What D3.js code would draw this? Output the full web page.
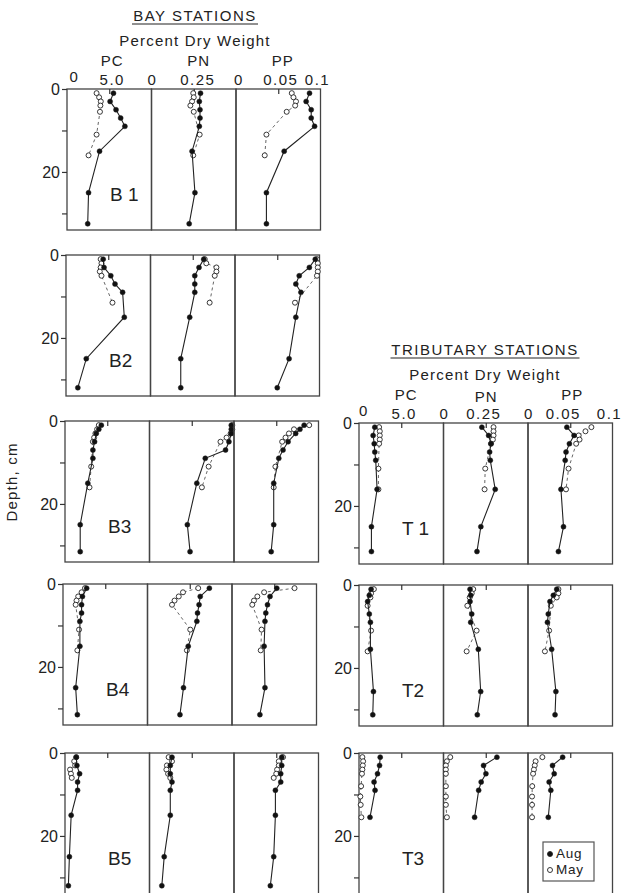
<!DOCTYPE html>
<html lang="en">
<head>
<meta charset="utf-8">
<title>Sediment PC, PN, PP depth profiles</title>
<script src="https://cdn.jsdelivr.net/npm/d3@7"></script>
<style>
  body { margin: 0; background: #fff; }
  svg { font-family: "Liberation Sans", Arial, sans-serif; }
  .tick text { font-size: 16px; fill: #222; }
  .tick line { stroke: #333; stroke-width: 1.2; }
</style>
</head>
<body>
<script>
"use strict";

const w = 623, h = 893;

// each row: depth (cm), PC, PN, PP (percent dry weight)
const B1_aug = [[1,5.5,0.29,0.087],[3,5.1,0.283,0.083],[5,5.8,0.287,0.089],[7,6.35,0.287,0.089],[9,6.85,0.283,0.093],[15,3.85,0.24,0.057],[25,2.55,0.257,0.036],[32.5,2.45,0.223,0.036]];
const B1_may = [[1,3.5,0.247,0.066],[2,3.8,0.25,0.068],[3,4.0,0.24,0.071],[4,3.95,0.23,0.07],[5.5,3.9,0.25,0.06],[11,3.5,0.285,0.036],[16,2.55,0.247,0.034]];

const B2_aug = [[1,4.4,0.315,0.095],[3,4.5,0.287,0.088],[5,5.3,0.262,0.076],[7,5.8,0.262,0.072],[9,6.7,0.262,0.078],[15,6.9,0.232,0.072],[25,2.4,0.179,0.064],[32,1.4,0.179,0.05]];
const B2_may = [[1,4.1,0.321,0.097],[2,4.2,0.33,0.098],[3,4.1,0.39,0.098],[4,4.0,0.39,0.098],[5,4.2,0.38,0.097],[11.5,5.5,0.35,0.071]];

const B3_aug = [[1,4.3,0.484,0.083],[2,4.0,0.484,0.078],[3,3.7,0.484,0.073],[5,3.5,0.47,0.064],[7,3.3,0.45,0.058],[9,3.3,0.33,0.053],[15,2.7,0.28,0.047],[25,1.8,0.224,0.047],[31.5,1.8,0.24,0.044]];
const B3_may = [[1,4.0,0.49,0.089],[2,3.8,0.49,0.071],[3,3.6,0.48,0.065],[4,3.45,0.456,0.061],[5,3.3,0.42,0.057],[11,3.1,0.35,0.049],[16,2.9,0.31,0.047]];

const B4_aug = [[1,2.8,0.366,0.053],[3,2.3,0.312,0.045],[5,2.2,0.305,0.042],[7,2.2,0.296,0.04],[9,2.0,0.292,0.039],[15,2.0,0.241,0.038],[25,1.5,0.213,0.039],[31.5,1.7,0.192,0.033]];
const B4_may = [[1,2.6,0.30,0.074],[2,2.2,0.21,0.038],[3,1.8,0.185,0.03],[4,1.6,0.16,0.026],[5,1.5,0.145,0.024],[11,1.9,0.253,0.035],[16,1.7,0.233,0.034]];

const B5_aug = [[1,1.33,0.133,0.0565],[3,1.41,0.123,0.0565],[5,1.73,0.123,0.0553],[7,1.49,0.133,0.0553],[9,1.49,0.123,0.049],[15,0.73,0.123,0.049],[25,0.52,0.087,0.047],[32,0.40,0.073,0.043]];
const B5_may = [[1,1.33,0.113,0.058],[2,1.09,0.133,0.053],[3,1.2,0.103,0.053],[4,0.6,0.10,0.051],[5,0.7,0.11,0.05],[6,0.8,0.123,0.047]];

const T1_aug = [[1,1.87,0.227,0.046],[3,1.67,0.267,0.0545],[5,1.8,0.281,0.049],[7,1.87,0.273,0.045],[9,1.98,0.277,0.044],[16,2.14,0.306,0.039],[25,1.47,0.221,0.042],[31,1.47,0.198,0.036]];
const T1_may = [[1,2.38,0.296,0.075],[2,2.46,0.296,0.068],[3,2.46,0.296,0.06],[4,2.46,0.292,0.061],[5,2.38,0.281,0.057],[11,2.3,0.247,0.048],[16,2.3,0.243,0.045]];

const T2_aug = [[1,1.43,0.157,0.034],[2.5,1.22,0.161,0.03],[4,1.02,0.157,0.026],[7,1.22,0.167,0.024],[9,1.35,0.161,0.023],[15.5,1.35,0.206,0.028],[25.7,1.71,0.22,0.033],[31.3,1.63,0.2,0.032]];
const T2_may = [[1,1.76,0.176,0.036],[2,1.43,0.167,0.036],[3,1.35,0.155,0.034],[5,1.02,0.141,0.027],[11,1.43,0.196,0.025],[16,1.02,0.137,0.02]];

const T3_aug = [[1,2.51,0.316,0.041],[3,2.43,0.237,0.029],[5,2.19,0.251,0.031],[7,1.78,0.223,0.025],[9,1.9,0.208,0.027],[15.5,1.3,0.184,0.024]];
const T3_may = [[1,0.4,0.04,0.017],[2,0.49,0.02,0.009],[3,0.45,0.014,0.008],[4,0.4,0.014,0.007],[5,0.35,0.014,0.006],[8,0.25,0.014,0.005],[10.5,0.16,0.014,0.0048],[12.5,0.2,0.014,0.0048],[15.5,0.28,0.02,0.0048]];

const bayStations = ["B1", "B2", "B3", "B4", "B5"];
const tribStations = ["T1", "T2", "T3"];
const stationNames = ["B 1", "B2", "B3", "B4", "B5", "T 1", "T2", "T3"];
const variables = ["PC", "PN", "PP"];
const xMax = [10, 0.5, 0.1];
const headerTicks = [[0, 5], [0, 0.25], [0, 0.05, 0.1]];
const depthTicks = [0, 10, 20, 30];
const seasons = ["May", "Aug"];

const data = {
  B1: {Aug: B1_aug, May: B1_may}, B2: {Aug: B2_aug, May: B2_may},
  B3: {Aug: B3_aug, May: B3_may}, B4: {Aug: B4_aug, May: B4_may},
  B5: {Aug: B5_aug, May: B5_may}, T1: {Aug: T1_aug, May: T1_may},
  T2: {Aug: T2_aug, May: T2_may}, T3: {Aug: T3_aug, May: T3_may}
};

// panel layout (the scan is a little skewed, so rows shift a bit)
const pw = 84.5, ph = 141;
const layout = {
  B1: {left: 67, top: 89}, B2: {left: 66, top: 255}, B3: {left: 65, top: 421},
  B4: {left: 63, top: 584}, B5: {left: 65, top: 753},
  T1: {left: 359, top: 423}, T2: {left: 359, top: 585}, T3: {left: 359, top: 753}
};

const svg = d3.select("body").append("svg")
  .attr("width", w).attr("height", h);

function fmt(d) {
  if (d === 0) return "0";
  if (d === 5) return "5.0";
  return String(d);
}

function drawStation(id, name) {
  const lay = layout[id];
  const g = svg.append("g");
  const y = d3.scaleLinear().domain([0, 34]).range([lay.top, lay.top + ph]);

  variables.forEach(function(v, i) {
    const x0 = lay.left + i * pw;
    const x = d3.scaleLinear().domain([0, xMax[i]]).range([x0, x0 + pw]);

    g.append("rect")
      .attr("x", x0).attr("y", lay.top)
      .attr("width", pw).attr("height", ph)
      .attr("fill", "none")
      .attr("stroke", "#444")
      .attr("stroke-width", 1.3);

    // small tick at mid-scale, pointing into the panel
    g.append("g")
      .attr("transform", "translate(0," + lay.top + ")")
      .call(d3.axisTop(x).tickValues([xMax[i] / 2]).tickSize(-5).tickFormat(""))
      .call(function(s) { s.select(".domain").remove(); });

    seasons.forEach(function(s) {
      const rows = data[id][s];
      const line = d3.line()
        .x(function(d) { return x(d[i + 1]); })
        .y(function(d) { return y(d[0]); });

      g.append("path")
        .datum(rows)
        .attr("d", line)
        .attr("fill", "none")
        .attr("stroke", s === "Aug" ? "#222" : "#555")
        .attr("stroke-width", s === "Aug" ? 1.1 : 0.9)
        .attr("stroke-dasharray", s === "Aug" ? null : "3,3");

      g.selectAll(null)
        .data(rows)
        .enter()
        .append("circle")
        .attr("cx", function(d) { return x(d[i + 1]); })
        .attr("cy", function(d) { return y(d[0]); })
        .attr("r", 2.5)
        .attr("fill", s === "Aug" ? "#111" : "#fff")
        .attr("stroke", "#222")
        .attr("stroke-width", s === "Aug" ? 0.5 : 0.9);
    });
  });

  // depth axis
  g.append("g")
    .attr("transform", "translate(" + lay.left + ",0)")
    .call(d3.axisLeft(y).tickValues(depthTicks).tickSize(5).tickSizeOuter(0).tickPadding(2)
      .tickFormat(function(d) { return d % 20 === 0 ? d : ""; }))
    .call(function(s) { s.select(".domain").remove(); });

  g.append("text")
    .attr("x", lay.left + 43)
    .attr("y", lay.top + 112)
    .attr("font-size", 19)
    .attr("fill", "#222")
    .text(name);
}

bayStations.forEach(function(id, i) { drawStation(id, stationNames[i]); });
tribStations.forEach(function(id, i) { drawStation(id, stationNames[i + 5]); });

// column headers
function drawHeader(id, title, cx, titleY, nudges) {
  const lay = layout[id];
  const hg = svg.append("g").attr("fill", "#222");

  hg.append("text")
    .attr("x", cx).attr("y", titleY)
    .attr("text-anchor", "middle")
    .attr("font-size", 15)
    .attr("letter-spacing", 1.5)
    .text(title);
  const tw = title.length * 10.5;
  hg.append("line")
    .attr("x1", cx - tw / 2).attr("x2", cx + tw / 2)
    .attr("y1", titleY + 3).attr("y2", titleY + 3)
    .attr("stroke", "#222").attr("stroke-width", 1.2);

  hg.append("text")
    .attr("x", cx).attr("y", titleY + 25)
    .attr("text-anchor", "middle")
    .attr("font-size", 15)
    .attr("letter-spacing", 1.2)
    .text("Percent Dry Weight");

  variables.forEach(function(v, i) {
    const x0 = lay.left + i * pw;
    const x = d3.scaleLinear().domain([0, xMax[i]]).range([x0, x0 + pw]);
    hg.append("text")
      .attr("x", x0 + pw / 2 + nudges.name[i])
      .attr("y", titleY + 45 + (id === "T1" && i === 1 ? 2 : 0))
      .attr("text-anchor", "middle")
      .attr("font-size", 15)
      .attr("letter-spacing", 1)
      .text(v);

    hg.selectAll(null)
      .data(headerTicks[i])
      .enter()
      .append("text")
      .attr("x", function(d, k) { return x(d) + nudges.tick[i][k]; })
      .attr("y", function(d, k) { return titleY + 64 + (i === 0 && k === 0 ? -3 : 0); })
      .attr("text-anchor", "middle")
      .attr("font-size", 15)
      .attr("letter-spacing", 1.5)
      .text(fmt);
  });
}

drawHeader("B1", "BAY STATIONS", 195, 21,
  {name: [3, 5, 4.5], tick: [[7.5, 3], [1, 4], [3, 2.5, -3]]});
drawHeader("T1", "TRIBUTARY STATIONS", 485, 355,
  {name: [5, 0.5, 2], tick: [[5, 3], [1, -2], [1, -7, -3]]});

// y label
svg.append("text")
  .attr("transform", "translate(17,482) rotate(-90)")
  .attr("text-anchor", "middle")
  .attr("font-size", 15)
  .attr("letter-spacing", 1.2)
  .attr("fill", "#222")
  .text("Depth, cm");

// legend in T3 PP panel
const lg = svg.append("g").attr("transform", "translate(543,842)");
lg.append("rect")
  .attr("width", 51).attr("height", 39)
  .attr("fill", "#fff")
  .attr("stroke", "#555").attr("stroke-width", 1.2);
const legendItems = [{name: "Aug", fill: "#111"}, {name: "May", fill: "#fff"}];
legendItems.forEach(function(d, i) {
  lg.append("circle")
    .attr("cx", 7).attr("cy", 12 + i * 16)
    .attr("r", 2.5)
    .attr("fill", d.fill)
    .attr("stroke", "#222").attr("stroke-width", 0.9);
  lg.append("text")
    .attr("x", 13).attr("y", 16 + i * 16)
    .attr("font-size", 13.5)
    .attr("letter-spacing", 0.8)
    .attr("fill", "#222")
    .text(d.name);
});
</script>
</body>
</html>
